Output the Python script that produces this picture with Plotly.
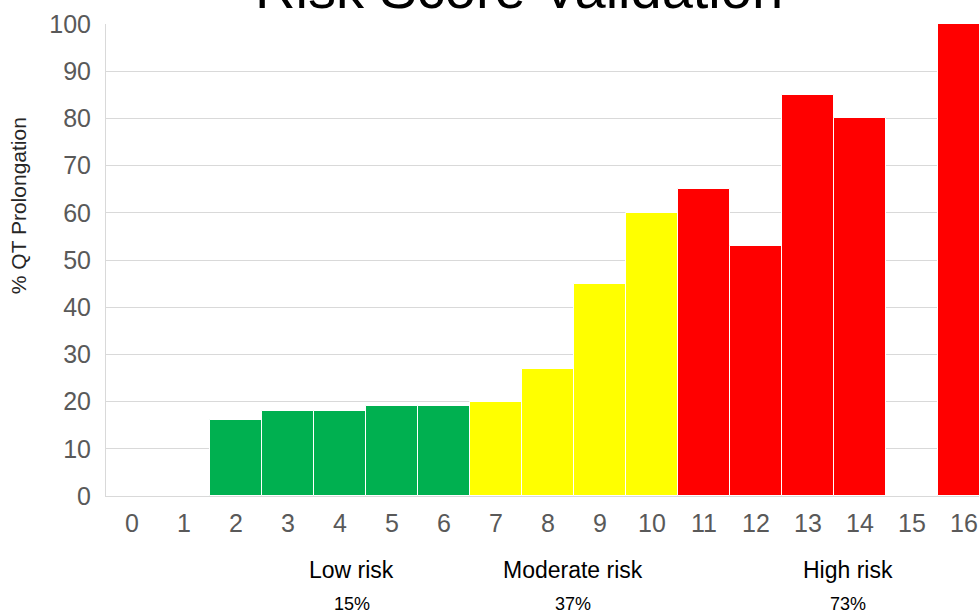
import plotly.graph_objects as go

# Risk score categories and the share of patients with QT prolongation
scores = list(range(17))
qt_pct = [0, 0, 16, 18, 18, 19, 19, 20, 27, 45, 60, 65, 53, 85, 80, 0, 100]

# Risk groups by score
low_scores = [2, 3, 4, 5, 6]
moderate_scores = [7, 8, 9, 10]
high_scores = [11, 12, 13, 14, 15, 16]

group_names = ["Low risk", "Moderate risk", "High risk"]
group_rates = ["15%", "37%", "73%"]
group_label_x = [4.23, 8.48, 13.77]

GREEN, YELLOW, RED = "#00B050", "#FFFF00", "#FF0000"


def bar_color(s):
    if s in low_scores:
        return GREEN
    if s in moderate_scores:
        return YELLOW
    if s in high_scores:
        return RED
    return GREEN


colors = [bar_color(s) for s in scores]

fig = go.Figure(
    go.Bar(
        x=scores,
        y=qt_pct,
        marker=dict(color=colors, line=dict(color="white", width=1)),
        hoverinfo="x+y",
    )
)

FONT = "Liberation Sans, Arial, sans-serif"
PLOT_W = 873

annotations = [
    dict(
        text="Risk Score Validation",
        xref="paper", yref="paper",
        x=(519 - 106) / PLOT_W, y=1,
        xanchor="center", yanchor="bottom", yshift=2,
        showarrow=False,
        font=dict(family=FONT, size=56, color="#000000"),
    ),
    dict(
        text="% QT Prolongation",
        xref="paper", yref="paper",
        x=(18 - 106) / PLOT_W, y=0.614,
        xanchor="center", yanchor="middle", textangle=-90,
        showarrow=False,
        font=dict(family=FONT, size=21, color="#262626"),
    ),
]
for name, rate, gx in zip(group_names, group_rates, group_label_x):
    annotations.append(dict(
        text=name, xref="x", yref="paper", x=gx, y=-0.157,
        xanchor="center", yanchor="middle", showarrow=False,
        font=dict(family=FONT, size=23, color="#000000"),
    ))
    annotations.append(dict(
        text=rate, xref="x", yref="paper", x=gx, y=-0.229,
        xanchor="center", yanchor="middle", showarrow=False,
        font=dict(family=FONT, size=18, color="#000000"),
    ))

fig.update_layout(
    width=979, height=613,
    margin=dict(l=106, r=0, t=24, b=117),
    paper_bgcolor="white", plot_bgcolor="white",
    bargap=0,
    showlegend=False,
    font=dict(family=FONT),
    annotations=annotations,
    xaxis=dict(
        range=[-0.5, 16.29],
        tickmode="array", tickvals=scores, ticktext=[str(s) for s in scores],
        tickfont=dict(family=FONT, size=25, color="#595959"),
        showgrid=False, zeroline=False,
        showline=True, linecolor="#D9D9D9", linewidth=1,
        ticks="", ticklabelstandoff=5,
    ),
    yaxis=dict(
        range=[0, 100], dtick=10,
        tickfont=dict(family=FONT, size=25, color="#595959"),
        showgrid=True, gridcolor="#D9D9D9", gridwidth=1,
        zeroline=False,
        showline=True, linecolor="#D9D9D9", linewidth=1,
        ticks="", ticklabelstandoff=9,
    ),
)

fig.write_html("out.html")
